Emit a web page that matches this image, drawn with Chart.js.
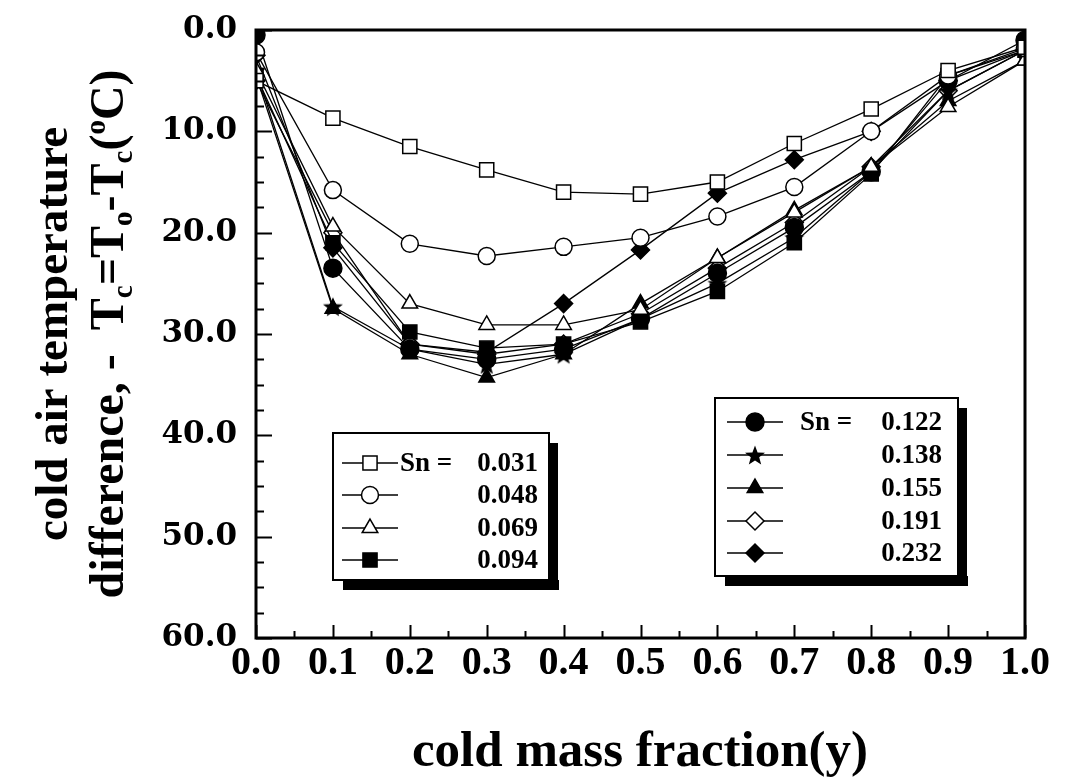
<!DOCTYPE html>
<html>
<head>
<meta charset="utf-8">
<title>cold air temperature difference</title>
<script src="https://cdn.jsdelivr.net/npm/chart.js@4.4.1/dist/chart.umd.min.js"></script>
<style>
  html, body { margin: 0; padding: 0; background: #fff; }
  #chart { display: block; }
</style>
</head>
<body>
<canvas id="chart" width="1071" height="782"></canvas>
<script>
"use strict";

// ---------- Data ----------

const coldFraction = [0.0, 0.1, 0.2, 0.3, 0.4, 0.5, 0.6, 0.7, 0.8, 0.9, 1.0];

const sn031 = [5.0, 8.7, 11.5, 13.8, 16.0, 16.2, 15.0, 11.2, 7.8, 4.0, 1.7];
const sn048 = [2.2, 15.8, 21.1, 22.3, 21.4, 20.5, 18.4, 15.5, 10.0, 4.5, 1.8];
const sn069 = [4.0, 19.4, 27.0, 29.1, 29.1, 27.6, 22.5, 18.0, 13.5, 7.6, 3.0];
const sn094 = [4.5, 21.0, 29.8, 31.4, 31.0, 28.8, 25.8, 21.0, 14.2, 4.5, 2.0];
const sn122 = [0.5, 23.5, 31.5, 32.5, 31.5, 28.5, 24.0, 19.5, 14.0, 5.0, 1.0];
const sn138 = [4.0, 27.3, 31.5, 33.0, 32.0, 28.5, 25.0, 20.5, 14.0, 6.0, 2.0];
const sn155 = [4.5, 27.5, 32.0, 34.3, 32.0, 27.0, 22.5, 17.8, 13.5, 7.0, 3.0];
const sn191 = [5.0, 20.0, 31.0, 32.0, 31.0, 28.0, 23.5, 19.0, 13.5, 6.0, 2.0];
const sn232 = [2.5, 21.5, 31.0, 31.8, 27.0, 21.7, 16.1, 12.8, 10.0, 5.0, 2.0];

const yTickValues = [0, 10, 20, 30, 40, 50, 60];
const xTickValues = [0.0, 0.1, 0.2, 0.3, 0.4, 0.5, 0.6, 0.7, 0.8, 0.9, 1.0];

// ---------- Marker styles ----------

function makeStar(size) {
    const c = document.createElement("canvas");
    c.width = size;
    c.height = size;
    const g = c.getContext("2d");
    const cx = size / 2, cy = size / 2 + 1, ro = size / 2 - 0.5, ri = ro * 0.42;
    g.beginPath();
    for (let i = 0; i < 10; i++) {
        const r = i % 2 === 0 ? ro : ri;
        const a = -Math.PI / 2 + i * Math.PI / 5;
        const px = cx + r * Math.cos(a), py = cy + r * Math.sin(a);
        if (i === 0) g.moveTo(px, py); else g.lineTo(px, py);
    }
    g.closePath();
    g.fillStyle = "#000";
    g.fill();
    return c;
}

const starImg = makeStar(22);

const SERIES = [
    { label: "0.031", data: sn031, style: "rect", radius: 10, fill: "#fff" },
    { label: "0.048", data: sn048, style: "circle", radius: 8.5, fill: "#fff" },
    { label: "0.069", data: sn069, style: "triangle", radius: 9, fill: "#fff" },
    { label: "0.094", data: sn094, style: "rect", radius: 10, fill: "#000" },
    { label: "0.122", data: sn122, style: "circle", radius: 9, fill: "#000" },
    { label: "0.138", data: sn138, style: starImg, radius: 10, fill: "#000" },
    { label: "0.155", data: sn155, style: "triangle", radius: 9, fill: "#000" },
    { label: "0.191", data: sn191, style: "rectRot", radius: 9, fill: "#fff" },
    { label: "0.232", data: sn232, style: "rectRot", radius: 9, fill: "#000" },
];

// legend blocks: which series, box and row positions
const LEGEND_LEFT = {
    items: [0, 1, 2, 3],
    box: { x: 333, y: 433, w: 216, h: 147 },
    rowY: [463, 495, 528, 560],
    lineX: [342, 398], markX: 370, textX: 400, numRight: 538,
};
const LEGEND_RIGHT = {
    items: [4, 5, 6, 7, 8],
    box: { x: 715, y: 398, w: 243, h: 178 },
    rowY: [422, 455, 488, 521, 553],
    lineX: [727, 783], markX: 755, textX: 800, numRight: 942,
};

const SERIF = "'Liberation Serif', 'Times New Roman', serif";

// ---------- Plugins ----------

const framePlugin = {
    id: "frame",
    afterDraw(chart) {
        const { ctx, chartArea: a, scales } = chart;
        ctx.save();
        ctx.strokeStyle = "#000";
        // inward tick marks on left and bottom axes
        ctx.lineWidth = 2;
        ctx.beginPath();
        for (let v = 0; v <= 60; v += 2.5) {
            const y = Math.round(scales.y.getPixelForValue(v)) + 0.5;
            const len = v % 10 === 0 ? 16 : 8;
            ctx.moveTo(a.left, y);
            ctx.lineTo(a.left + len, y);
        }
        for (let i = 0; i <= 20; i++) {
            const x = Math.round(scales.x.getPixelForValue(i * 0.05)) + 0.5;
            const len = i % 2 === 0 ? 13 : 7;
            ctx.moveTo(x, a.bottom);
            ctx.lineTo(x, a.bottom - len);
        }
        ctx.stroke();
        ctx.lineWidth = 3;
        ctx.strokeRect(a.left, a.top, a.right - a.left, a.bottom - a.top);
        ctx.restore();
    },
};

function drawLegendBlock(ctx, block) {
    const b = block.box;
    ctx.save();
    // drop shadow
    ctx.fillStyle = "#000";
    ctx.fillRect(b.x + 10, b.y + b.h, b.w, 10);
    ctx.fillRect(b.x + b.w, b.y + 10, 9, b.h);
    ctx.fillStyle = "#fff";
    ctx.fillRect(b.x, b.y, b.w, b.h);
    ctx.strokeStyle = "#000";
    ctx.lineWidth = 2;
    ctx.strokeRect(b.x, b.y, b.w, b.h);

    ctx.font = "bold 27px " + SERIF;
    ctx.textBaseline = "middle";
    block.items.forEach((idx, row) => {
        const s = SERIES[idx];
        const y = block.rowY[row];
        ctx.beginPath();
        ctx.lineWidth = 1.5;
        ctx.moveTo(block.lineX[0], y);
        ctx.lineTo(block.lineX[1], y);
        ctx.stroke();
        ctx.fillStyle = s.fill;
        ctx.lineWidth = 1.5;
        Chart.helpers.drawPoint(ctx, { pointStyle: s.style, radius: s.radius, rotation: 0, borderWidth: 1.5 }, block.markX, y);
        ctx.fillStyle = "#000";
        if (row === 0) {
            ctx.textAlign = "left";
            ctx.fillText("Sn =", block.textX, y + 1);
        }
        ctx.textAlign = "right";
        ctx.fillText(s.label, block.numRight, y + 1);
    });
    ctx.restore();
}

const legendPlugin = {
    id: "boxLegends",
    afterDraw(chart) {
        drawLegendBlock(chart.ctx, LEGEND_LEFT);
        drawLegendBlock(chart.ctx, LEGEND_RIGHT);
    },
};

// rich text with sub/superscripts, drawn along the current x direction
function drawRich(ctx, parts, cx, cy, size) {
    const big = "bold " + size + "px " + SERIF;
    const small = "bold " + Math.round(size * 0.6) + "px " + SERIF;
    let total = 0;
    for (const p of parts) {
        ctx.font = p.sub || p.sup ? small : big;
        total += ctx.measureText(p.t).width;
    }
    let x = cx - total / 2;
    ctx.textAlign = "left";
    ctx.textBaseline = "alphabetic";
    for (const p of parts) {
        ctx.font = p.sub || p.sup ? small : big;
        let dy = 0;
        if (p.sub) dy = size * 0.18;
        if (p.sup) dy = -size * 0.38;
        ctx.fillText(p.t, x, cy + dy);
        x += ctx.measureText(p.t).width;
    }
}

const titlePlugin = {
    id: "axisTitles",
    afterDraw(chart) {
        const { ctx, chartArea: a } = chart;
        const midY = (a.top + a.bottom) / 2;
        ctx.save();
        ctx.fillStyle = "#000";
        // x title
        ctx.font = "bold 51px " + SERIF;
        ctx.textAlign = "center";
        ctx.textBaseline = "alphabetic";
        ctx.fillText("cold mass fraction(y)", 640, 766);
        // y title, two rotated lines
        ctx.translate(0, midY);
        ctx.rotate(-Math.PI / 2);
        drawRich(ctx, [{ t: "cold air temperature" }], 0, 67, 47);
        drawRich(ctx, [
            { t: "difference, -  T" }, { t: "c", sub: true },
            { t: "=T" }, { t: "o", sub: true },
            { t: "-T" }, { t: "c", sub: true },
            { t: "(" }, { t: "o", sup: true }, { t: "C)" },
        ], 0, 123, 48);
        ctx.restore();
    },
};

// ---------- Chart ----------

const datasets = SERIES.map((s) => ({
    label: "Sn = " + s.label,
    data: coldFraction.map((x, i) => ({ x, y: s.data[i] })),
    borderColor: "#000",
    borderWidth: 1.3,
    backgroundColor: s.fill,
    pointStyle: s.style,
    pointRadius: s.radius,
    pointBorderColor: "#000",
    pointBackgroundColor: s.fill,
    pointBorderWidth: 1.5,
    tension: 0,
    fill: false,
}));

new Chart(document.getElementById("chart"), {
    type: "line",
    data: { datasets },
    options: {
        responsive: false,
        animation: false,
        events: [],
        layout: { padding: { top: 30, right: 46, left: 0, bottom: 0 } },
        plugins: {
            legend: { display: false },
            tooltip: { enabled: false },
        },
        scales: {
            x: {
                type: "linear",
                min: 0,
                max: 1,
                afterBuildTicks: (scale) => { scale.ticks = xTickValues.map((v) => ({ value: v })); },
                afterFit: (scale) => {
                    scale.height = 144;
                    scale.paddingLeft = 0;
                    scale.paddingRight = 0;
                },
                ticks: {
                    callback: (v) => Number(v).toFixed(1),
                    font: { family: SERIF, size: 40, weight: "bold" },
                    color: "#000",
                    padding: 2,
                    maxRotation: 0,
                    autoSkip: false,
                },
                grid: { display: false, drawTicks: false },
                border: { display: false },
            },
            y: {
                type: "linear",
                reverse: true,
                min: 0,
                max: 60,
                afterBuildTicks: (scale) => { scale.ticks = yTickValues.map((v) => ({ value: v })); },
                afterFit: (scale) => {
                    scale.width = 256;
                    scale.paddingTop = 0;
                    scale.paddingBottom = 0;
                },
                ticks: {
                    callback: (v) => Number(v).toFixed(1),
                    font: { family: "'DejaVu Serif', serif", size: 31, weight: "bold" },
                    color: "#000",
                    padding: 19,
                    autoSkip: false,
                },
                grid: { display: false, drawTicks: false },
                border: { display: false },
            },
        },
    },
    plugins: [framePlugin, legendPlugin, titlePlugin],
});
</script>
</body>
</html>
